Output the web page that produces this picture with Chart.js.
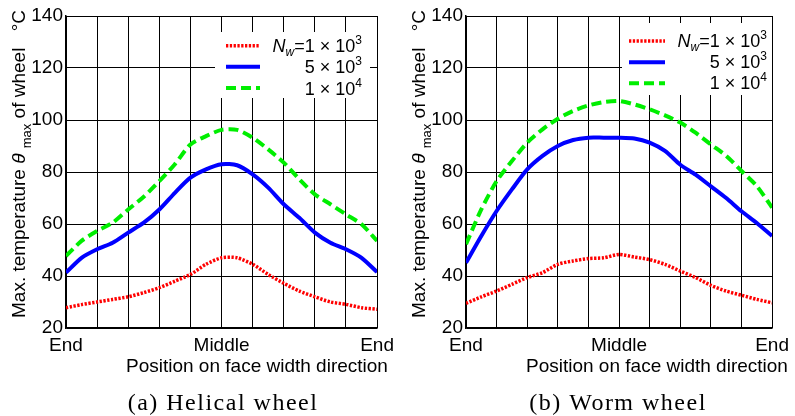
<!DOCTYPE html>
<html>
<head>
<meta charset="utf-8">
<script src="https://cdn.jsdelivr.net/npm/chart.js@4.4.1/dist/chart.umd.min.js"></script>
<style>
  html, body { margin: 0; padding: 0; background: #fff; }
  #wrap { position: relative; width: 795px; height: 416px; }
  canvas { position: absolute; top: 0; }
</style>
</head>
<body>
<div id="wrap">
  <canvas id="chart-helical" width="400" height="416" style="left:0"></canvas>
  <canvas id="chart-worm" width="395" height="416" style="left:400px"></canvas>
</div>
<script>
// position along face width: 0 = End, 5 = Middle, 10 = End
const positions = [0, 0.5, 1, 1.5, 2, 2.5, 3, 3.5, 4, 4.5, 5, 5.5, 6, 6.5, 7, 7.5, 8, 8.5, 9, 9.5, 10];
const xTickPos = [0, 5, 10];
const xTickText = ['End', 'Middle', 'End'];
const yMin = 20, yMax = 140, yStep = 20;

// (a) Helical wheel
const helical1e3 = [27.8, 29, 30, 31, 32, 33.6, 35.5, 38, 40.6, 44.5, 47, 47, 44.5, 40.6, 37.2, 34.2, 32, 30, 29.1, 27.8, 27.2];
const helical5e3 = [41.3, 47, 50.3, 52.8, 56.7, 60.5, 65.6, 72, 77.8, 81, 83, 82.6, 79.1, 74, 67.6, 62.4, 56.7, 52.8, 50.3, 47, 41.5];
const helical1e4 = [47.7, 53.5, 57.3, 60.5, 65.6, 70.5, 76.5, 83, 90.6, 93.8, 96.2, 96.2, 93.2, 88.7, 83.6, 77.2, 71.4, 67.6, 63.7, 59.9, 53.5];

// (b) Worm wheel
const worm1e3 = [29.5, 32, 34.2, 36.8, 39.4, 41.3, 44.5, 45.8, 46.7, 47, 48.3, 47.3, 46.3, 44.5, 41.9, 39.4, 36.4, 34.2, 32.6, 31, 29.7];
const worm5e3 = [45.1, 55.4, 65, 73.3, 81, 86.2, 90, 92.3, 93.2, 93.2, 93.2, 92.9, 91.3, 88.1, 82.8, 79, 74.5, 70, 64.9, 60.4, 55.4];
const worm1e4 = [52.2, 65.6, 76.5, 84.2, 91.3, 96.4, 100.5, 103.5, 105.6, 106.9, 107.3, 106, 104.1, 101.8, 99, 95.1, 90.6, 86.2, 80.4, 74.6, 66.3];

const seriesLabels = ['Nw=1×10^3', '5×10^3', '1×10^4'];
const lineColors = ['#ff0000', '#0000ff', '#00ee00'];
const lineWidths = [3.5, 4, 4];
const lineDashes = [[2.3, 1.5], [], [10, 5]];

const FONT = '"Liberation Sans", Arial, sans-serif';
Chart.defaults.font.family = FONT;
Chart.defaults.color = '#000';

const legendRich = [
  [{ t: 'N', f: 'italic 18px ' + FONT }, { t: 'w', f: 'italic 12px ' + FONT, dy: 4 }, { t: '=1 × 10', f: '18px ' + FONT }, { t: '3', f: '12px ' + FONT, dy: -8 }],
  [{ t: '5 × 10', f: '18px ' + FONT }, { t: '3', f: '12px ' + FONT, dy: -8 }],
  [{ t: '1 × 10', f: '18px ' + FONT }, { t: '4', f: '12px ' + FONT, dy: -8 }],
];
const yTitleParts = [
  { t: 'Max. temperature ', f: '19px ' + FONT },
  { t: 'θ', f: 'italic 19px ' + FONT },
  { t: ' ', f: '19px ' + FONT },
  { t: 'max', f: '13px ' + FONT, dy: 6 },
  { t: ' of wheel', f: '19px ' + FONT },
];

function richWidth(ctx, parts) {
  return parts.reduce((w, p) => { ctx.font = p.f; return w + ctx.measureText(p.t).width; }, 0);
}

function drawRich(ctx, parts, x, y) {
  parts.forEach(p => {
    ctx.font = p.f;
    ctx.fillText(p.t, x, y + (p.dy || 0));
    x += ctx.measureText(p.t).width;
  });
  return x;
}

const decorPlugin = {
  id: 'decor',
  afterDraw(chart, args, o) {
    const ctx = chart.ctx;
    ctx.save();
    ctx.fillStyle = '#000';
    ctx.textAlign = 'left';
    ctx.textBaseline = 'alphabetic';

    // legend box
    ctx.fillStyle = '#fff';
    ctx.fillRect(o.box[0], o.box[1], o.box[2], o.box[3]);
    chart.data.datasets.forEach((ds, i) => {
      const y = o.rowY[i];
      ctx.beginPath();
      ctx.strokeStyle = ds.borderColor;
      ctx.lineWidth = ds.borderWidth;
      ctx.setLineDash(ds.borderDash || []);
      ctx.moveTo(o.lineX[0], y);
      ctx.lineTo(o.lineX[1], y);
      ctx.stroke();
      ctx.setLineDash([]);
      ctx.fillStyle = '#000';
      const w = richWidth(ctx, legendRich[i]);
      drawRich(ctx, legendRich[i], o.textRight - w, y + o.baseOff);
    });

    // x title
    ctx.font = '19px ' + FONT;
    ctx.fillText('Position on face width direction', 126, 372);

    // caption
    ctx.font = '24px "Liberation Serif", "Times New Roman", serif';
    ctx.letterSpacing = '1.5px';
    ctx.textAlign = 'center';
    ctx.fillText(o.caption, o.captionX, 410);
    ctx.letterSpacing = '0px';
    ctx.textAlign = 'left';

    // y title (rotated)
    ctx.translate(25, 318);
    ctx.rotate(-Math.PI / 2);
    drawRich(ctx, yTitleParts, 0, 0);
    ctx.font = '19px ' + FONT;
    ctx.textAlign = 'right';
    ctx.fillText('°C', 308, 0);
    ctx.restore();
  }
};

function makeChart(id, series, decor) {
  const canvas = document.getElementById(id);
  return new Chart(canvas, {
    type: 'line',
    data: {
      datasets: series.map((vals, i) => ({
        label: seriesLabels[i],
        data: positions.map((p, k) => ({ x: p, y: vals[k] })),
        borderColor: lineColors[i],
        borderWidth: lineWidths[i],
        borderDash: lineDashes[i],
        pointRadius: 0,
        tension: 0.25,
        fill: false,
      }))
    },
    options: {
      responsive: false,
      animation: false,
      layout: { padding: { top: 16, right: canvas.width - 378, left: 0, bottom: 0 } },
      plugins: {
        legend: { display: false },
        tooltip: { enabled: false },
        decor
      },
      scales: {
        x: {
          type: 'linear', min: 0, max: 10,
          afterFit: s => { s.height = 88; },
          ticks: {
            stepSize: 1, autoSkip: false, maxRotation: 0, padding: 6,
            font: { size: 19 }, color: '#000',
            callback: v => { const k = xTickPos.indexOf(v); return k >= 0 ? xTickText[k] : ''; }
          },
          grid: { color: '#000', lineWidth: 1, drawTicks: false },
          border: { color: '#000', width: 1.5 }
        },
        y: {
          min: yMin, max: yMax,
          afterFit: s => { s.width = 66; },
          ticks: { stepSize: yStep, padding: 3, font: { size: 19 }, color: '#000' },
          grid: { color: '#000', lineWidth: 1, drawTicks: false },
          border: { color: '#000', width: 1.5 }
        }
      }
    },
    plugins: [decorPlugin]
  });
}

makeChart('chart-helical', [helical1e3, helical5e3, helical1e4], {
  caption: '(a) Helical wheel', captionX: 223,
  box: [215, 32, 155, 66], lineX: [226, 260], rowY: [45.7, 66.7, 88], textRight: 362, baseOff: 6.5
});
makeChart('chart-worm', [worm1e3, worm5e3, worm1e4], {
  caption: '(b) Worm wheel', captionX: 218,
  box: [222, 23, 150, 72], lineX: [229, 265], rowY: [41, 62.3, 83.3], textRight: 367, baseOff: 6
});
</script>
</body>
</html>
